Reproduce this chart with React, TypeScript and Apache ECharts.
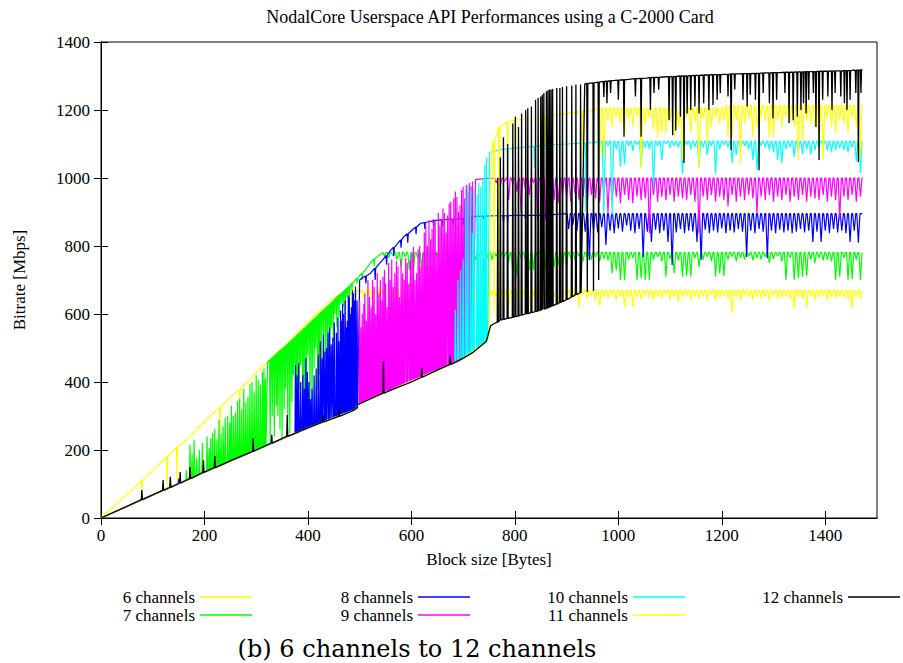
import React, { useEffect, useRef } from "react";
import * as echarts from "echarts";

// Tick labels
const xTicks = [0, 200, 400, 600, 800, 1000, 1200, 1400];
const yTicks = [0, 200, 400, 600, 800, 1000, 1200, 1400];

const seriesNames = [
  "6 channels",
  "7 channels",
  "8 channels",
  "9 channels",
  "10 channels",
  "11 channels",
  "12 channels",
];
const seriesColors = ["#ffff00", "#00ff00", "#0000ff", "#ff00ff", "#00ffff", "#ffff00", "#000000"];

// Point lists: [x, y] = a sample; [x, a, b] = a one-sample spike at x from level a to b and back.
// Bands: noisy saturated plateaus, one dip to lows[i] at x0 + i*dx from the ceiling `top`.

// ---- 6 channels ----
const s6Head: number[][] = [
  [0, 0], [40, 55], [60, 82], [79, 110, 62], [100, 140], [128, 180, 98], [147, 208, 112], [172, 240], [200, 283],
  [230, 325, 252], [250, 355], [268, 378, 335], [300, 428], [330, 470], [352, 502, 470], [380, 545], [400, 575],
  [420, 605, 578], [443, 640], [460, 656], [478, 668],
];
const s6Band = {
  x0: 484, dx: 8, top: 670,
  lows: [
    655, 648, 660, 645, 652, 640, 658, 650, 645, 655, 650, 611, 648, 660, 642, 655, 650, 645, 658, 648,
    652, 640, 655, 648, 660, 645, 650, 642, 656, 648, 645, 658, 650, 640, 655, 648, 652, 645, 621, 650,
    645, 655, 648, 621, 652, 640, 656, 648, 645, 650, 627, 648, 655, 642, 650, 621, 658, 645, 652, 640,
    624, 650, 645, 655, 640, 652, 621, 648, 621, 650, 642, 655, 648, 640, 652, 645, 658, 642, 650, 636,
    648, 655, 640, 652, 645, 650, 642, 656, 640, 648, 652, 645, 603, 650, 640, 655, 648, 642, 652, 645,
    650, 640, 655, 645, 648, 652, 642, 617, 650, 645, 620, 652, 642, 648, 655, 640, 650, 645, 652, 648,
    642, 617, 650, 645,
  ],
};
const s6Tail: number[][] = [[1472, 670]];

// ---- 7 channels ----
const s7Head: number[][] = [
  [0, 0], [50, 34], [100, 68], [120, 81, 96], [150, 101], [165, 111, 140], [172, 116, 215], [176, 119, 190],
  [180, 121, 230], [185, 124, 175], [190, 128, 200], [196, 132, 220], [200, 135], [205, 138, 240], [209, 140, 205],
  [212, 142, 235], [216, 145, 250], [220, 148, 262], [224, 150, 230], [228, 153, 288], [232, 156, 250], [236, 158, 270],
  [240, 161, 295], [245, 165, 300], [249, 167, 280], [252, 170, 330], [256, 172, 300], [260, 175, 310], [264, 177, 345],
  [268, 180, 350], [272, 182, 320], [276, 185, 380], [280, 187, 340], [284, 190, 356], [288, 192, 395],
  [292, 195, 400], [296, 197, 370], [300, 200, 420], [304, 202, 405], [308, 205, 392], [312, 208, 430],
  [315, 210, 440], [318, 212, 410],
  [322, 458], [327, 465, 220], [331, 471, 300], [335, 477, 240], [339, 483, 330], [342, 487, 300], [346, 492, 260],
  [350, 497, 232], [354, 502, 320], [357, 507, 380], [361, 512, 280], [365, 518, 250], [369, 523, 340], [372, 528, 420],
  [376, 533, 300], [379, 538, 262], [383, 543, 380], [386, 548, 450], [390, 553, 330], [393, 558, 300], [397, 563, 420],
  [400, 568, 480], [404, 574, 350], [408, 580, 330], [412, 585, 440], [415, 590, 500], [419, 595, 380], [422, 600, 420],
  [426, 606, 470], [430, 612, 540], [434, 617, 400], [438, 623, 350], [442, 628, 500], [445, 633, 560],
  [449, 638, 520], [452, 643, 600], [456, 649, 560], [460, 655, 590], [464, 660, 630], [468, 665, 620],
  [472, 671, 600], [476, 677, 650], [480, 683, 640], [485, 690, 670], [495, 705, 690], [505, 720, 700], [515, 738],
  [528, 762, 740], [540, 776],
];
const s7Band = {
  x0: 548, dx: 8, top: 781,
  lows: [
    770, 765, 772, 760, 738, 768, 729, 729, 765, 738, 770, 762, 768, 758, 770, 760, 679, 670, 765, 772,
    760, 768, 758, 770, 720, 765, 760, 770, 762, 768, 755, 720, 710, 765, 760, 729, 729, 768, 755, 729,
    762, 738, 745, 729, 740, 765, 760, 770, 755, 765, 760, 768, 755, 762, 758, 720, 729, 700, 700, 760,
    765, 700, 705, 700, 700, 760, 768, 755, 710, 762, 720, 758, 710, 712, 710, 765, 738, 760, 768, 755,
    710, 720, 712, 760, 768, 755, 765, 760, 770, 758, 765, 760, 768, 750, 762, 770, 755, 700, 765, 700,
    705, 710, 712, 760, 750, 765, 758, 760, 755, 700, 710, 765, 700, 702, 760, 700,
  ],
};
const s7Tail: number[][] = [[1472, 781]];

// ---- 8 channels ----
const s8Head: number[][] = [
  [0, 0], [100, 68], [150, 101, 115], [200, 135], [250, 168], [300, 200], [320, 213], [376, 249, 450], [379, 251, 420],
  [382, 253, 455], [386, 256, 400], [390, 258, 420], [393, 260, 380], [396, 262, 470], [399, 264, 430], [402, 266, 400],
  [405, 268, 350], [408, 270, 380], [412, 273, 420], [416, 275, 440], [420, 278, 480], [424, 280, 520], [427, 282, 470],
  [430, 283, 540], [433, 285, 490], [436, 287, 500], [439, 288, 545], [442, 290, 560], [445, 291, 510], [448, 292, 530],
  [451, 294, 575], [455, 296, 545], [458, 298, 590], [460, 300, 520], [463, 302, 610], [465, 303, 580], [467, 305, 630],
  [469, 306, 600], [472, 308, 640], [474, 310, 560], [476, 311, 580], [478, 312, 655], [480, 313, 650], [482, 314, 600],
  [484, 315, 620], [486, 316, 670], [488, 317, 661], [490, 318, 640], [492, 320, 680], [495, 322, 640],
  [500, 700], [505, 706], [512, 712, 690], [521, 720], [530, 735, 700], [538, 748], [545, 760], [552, 772, 745], [560, 788],
  [566, 796, 770], [572, 805], [580, 818, 795], [585, 827], [593, 836, 810], [600, 845], [609, 856, 835], [618, 867],
  [626, 869, 850], [635, 872], [643, 874, 852], [650, 876], [660, 877, 858], [670, 878], [680, 879, 860], [690, 880],
  [700, 881, 862], [709, 882, 827], [715, 884, 840], [722, 887],
  [740, 888, 878], [760, 889], [778, 889, 867], [786, 889, 870], [800, 890], [820, 890, 882], [845, 890], [860, 890, 880],
  [880, 893],
];
const s8Band = {
  x0: 904, dx: 8, top: 895,
  lows: [
    850, 862, 845, 858, 842, 759, 848, 840, 855, 803, 845, 838, 852, 842, 860, 845, 838, 850, 768, 842,
    812, 848, 838, 845, 812, 744, 840, 850, 838, 845, 842, 812, 759, 848, 838, 845, 840, 852, 838, 845,
    840, 850, 842, 768, 845, 838, 850, 842, 764, 845, 838, 848, 840, 845, 838, 842, 850, 840, 845, 812,
    842, 812, 845, 838, 850, 840, 845, 838, 812, 845, 810,
  ],
};
const s8Tail: number[][] = [[1472, 895]];

// ---- 9 channels ----
const s9Head: number[][] = [
  [0, 0], [100, 68], [200, 135], [300, 200], [400, 265], [490, 318], [496, 333],
  [500, 336, 640], [503, 338, 560], [505, 339, 600], [508, 341, 630], [510, 343, 660], [513, 345, 580],
  [516, 347, 700], [519, 349, 650], [522, 351, 620], [525, 353, 700], [528, 355, 680], [531, 357, 600],
  [534, 359, 720], [537, 361, 660], [540, 363, 700], [543, 365, 640], [545, 366, 709], [548, 368, 730],
  [550, 369, 690], [553, 371, 620], [556, 373, 750], [559, 375, 700], [562, 377, 760], [565, 379, 680],
  [568, 381, 720], [571, 383, 755], [574, 385, 740], [577, 387, 650], [580, 389, 760], [583, 391, 720],
  [586, 393, 700], [589, 394, 765], [592, 396, 750], [595, 397, 690], [598, 399, 760], [601, 401, 780],
  [604, 403, 797], [607, 405, 700], [610, 407, 720], [613, 409, 790], [616, 411, 800], [619, 413, 740],
  [622, 415, 780], [625, 417, 840], [628, 420, 860], [631, 422, 800], [634, 424, 876], [637, 426, 820],
  [640, 428, 850], [643, 430, 880], [646, 432, 870], [649, 434, 780], [652, 436, 897], [655, 438, 860],
  [658, 440, 880], [661, 442, 910], [664, 444, 897], [667, 446, 840], [670, 447, 890], [673, 449, 925],
  [676, 451, 930], [679, 453, 880], [682, 455, 940], [685, 457, 960], [688, 459, 944], [691, 461, 900],
  [694, 463, 920], [697, 466, 965], [700, 470, 974], [703, 472, 940], [706, 475, 980], [709, 478, 960],
  [712, 481, 985], [715, 483, 975], [718, 486, 990],
  [724, 995], [740, 998],
];
const s9Band = {
  x0: 764, dx: 8, top: 1000,
  lows: [
    985, 975, 990, 935, 980, 960, 897, 970, 950, 985, 876, 950, 876, 955, 935, 926, 950, 940, 930, 955,
    935, 945, 926, 950, 940, 930, 955, 897, 930, 945, 926, 950, 935, 926, 945, 935, 940, 838, 950, 930,
    945, 935, 950, 930, 945, 940, 935, 950, 930, 838, 945, 935, 950, 930, 945, 935, 917, 950, 930, 945,
    935, 950, 940, 897, 945, 935, 950, 930, 945, 935, 950, 930, 945, 935, 950, 930, 945, 940, 935, 950,
    930, 945, 935, 877, 945, 935, 950, 930, 945,
  ],
};
const s9Tail: number[][] = [[1472, 1002]];

// ---- 10 channels ----
const s10Head: number[][] = [
  [0, 0], [100, 68], [200, 135], [300, 200], [400, 265], [490, 318], [496, 333], [560, 376], [650, 435], [680, 456],
  [685, 460, 612], [690, 463, 700], [695, 467, 729], [700, 470, 760], [705, 474, 935], [709, 478, 980],
  [714, 482, 964], [718, 486, 838], [721, 490, 970], [727, 498, 950], [730, 501, 985], [734, 506, 973],
  [738, 510, 1000], [742, 515, 1040], [745, 520, 1060], [748, 530],
  [751, 1075], [770, 1083], [786, 1086, 1014], [800, 1088], [838, 1093, 1030], [870, 1097], [900, 1100],
  [937, 1103, 900], [955, 1104],
];
const s10Band = {
  x0: 964, dx: 8, top: 1108,
  lows: [
    1090, 895, 1095, 891, 1085, 1033, 1040, 1095, 1080, 1098, 1033, 1090, 1085, 974, 1095, 1053, 1100, 1088, 1095, 1090,
    1012, 1098, 1085, 1092, 1033, 1090, 1068, 1095, 1012, 1085, 1098, 1090, 1044, 1068, 1088, 1095, 1085, 1053, 1023, 1095,
    1090, 1082, 1075, 1053, 1044, 1085, 1090, 1062, 1080, 1070, 1085, 1070, 1082, 1090, 1095, 1082, 1075, 1082, 1088, 1082,
    1075, 1090, 1050, 1014,
  ],
};
const s10Tail: number[][] = [[1472, 1108]];

// ---- 11 channels ----
const s11Head: number[][] = [
  [0, 0], [100, 68], [200, 135], [300, 200], [400, 265], [490, 318], [496, 333], [560, 376], [650, 435], [700, 470],
  [745, 520], [750, 540],
  [753, 1000], [757, 1100], [760, 1110, 600], [765, 1130], [770, 1150, 603], [780, 1160], [786, 1165, 994],
  [800, 1170, 1080], [830, 1175], [860, 1180, 1100], [900, 1190], [930, 1195, 1060], [950, 1198],
];
const s11BandA = {
  x0: 964, dx: 8, top: 1206,
  lows: [
    1053, 1060, 1170, 1150, 1180, 1160, 1132, 1175, 1150, 1185, 1029, 1160, 1175, 1140, 1121, 1132, 1132, 1170, 1120, 1150,
    1053, 1180, 1132, 1165, 1029, 1175, 1100, 1150, 1180, 1160, 1170,
  ],
};
const s11BandB = {
  x0: 1212, dx: 8, top: 1214,
  lows: [
    1121, 1125, 1170, 1044, 1160, 1175, 1121, 1150, 1180, 1165, 1121, 1121, 1170, 1150, 1180, 1165, 1150, 1053, 1110, 1170,
    1160, 1150, 1100, 1053, 1175, 1150, 1132, 1170, 1160, 1132, 1175, 1150, 1062,
  ],
};
const s11Tail: number[][] = [[1472, 1218]];

// ---- 12 channels ----
const s12Head: number[][] = [
  [0, 0], [50, 34], [79, 54, 82], [100, 68], [120, 81, 112], [134, 90, 121], [153, 103, 135], [172, 116, 150],
  [198, 134, 170], [220, 148, 182], [250, 168], [294, 196, 235], [300, 200], [330, 220, 245], [360, 240, 303], [400, 265],
  [430, 283, 302], [460, 299, 322], [490, 318], [496, 333], [520, 350], [546, 367, 460], [560, 376], [600, 400],
  [620, 414, 442], [650, 435], [675, 452, 478], [700, 470], [720, 488], [745, 520], [753, 565], [760, 572],
  [767, 576, 1000], [772, 582, 1060], [778, 584, 1120], [786, 587, 1100], [796, 590, 1160], [801, 592, 1180],
  [807, 594, 1150], [813, 597, 1190], [821, 600, 1200], [825, 601, 1205], [832, 604, 1210], [840, 607, 1230],
  [845, 609, 1235], [850, 611, 1240], [853, 613, 1245], [856, 614, 1250], [861, 616, 1255], [864, 618, 1258],
  [867, 620, 1260], [870, 622, 1260], [873, 624, 1262], [881, 629, 1265], [887, 633, 1265], [892, 636, 1268],
  [900, 642, 1270], [910, 650, 1272], [918, 657, 1275], [927, 662, 1275],
  [935, 1276], [940, 1278, 665], [952, 1280, 668], [962, 1282, 700], [972, 1284, 1238], [978, 1285, 1220],
  [985, 1286, 1250], [993, 1287], [1000, 1288, 1230], [1011, 1289, 1121], [1020, 1290], [1033, 1292, 1240],
  [1044, 1293, 1121], [1055, 1294], [1062, 1295, 1200], [1069, 1296, 1250], [1078, 1296, 1260], [1086, 1297],
  [1098, 1298, 1170], [1105, 1298, 1126], [1111, 1299, 1140], [1120, 1300, 1180], [1127, 1300, 1044],
  [1133, 1300, 1190], [1140, 1301, 1200], [1148, 1302, 1210], [1156, 1302, 1190], [1165, 1303, 1220],
  [1175, 1303, 1200], [1183, 1304, 1215], [1191, 1304, 1230], [1197, 1304, 1250], [1205, 1305],
  [1212, 1305, 1240], [1218, 1306, 1082], [1225, 1306, 1260], [1233, 1306], [1241, 1307, 1230],
  [1249, 1307, 1210], [1255, 1307, 1245], [1265, 1308, 1230], [1272, 1308, 1023], [1280, 1309, 1250],
  [1286, 1309], [1292, 1309, 1220], [1299, 1310, 1176], [1306, 1310, 1230], [1315, 1310], [1322, 1311, 1250],
  [1330, 1311, 1162], [1338, 1311, 1170], [1346, 1312, 1180], [1353, 1312, 1200], [1358, 1312, 1220],
  [1363, 1313, 1190], [1368, 1313, 1230], [1377, 1313, 1250], [1382, 1313, 1150], [1388, 1314, 1053],
  [1395, 1314, 1230], [1400, 1314], [1405, 1314, 1240], [1413, 1315, 1200], [1419, 1315, 1250], [1425, 1315],
  [1430, 1315, 1240], [1437, 1316, 1220], [1442, 1316, 1200], [1448, 1316, 1230], [1455, 1317],
  [1459, 1317, 1250], [1464, 1317, 1047], [1469, 1318, 1250], [1472, 1318],
];

type Band = { x0: number; dx: number; top: number; lows: number[] };

function expand(pts: number[][]): number[][] {
  const out: number[][] = [];
  for (const p of pts) {
    if (p.length === 2) out.push([p[0], p[1]]);
    else out.push([p[0] - 1, p[1]], [p[0], p[2]], [p[0] + 1, p[1]]);
  }
  return out;
}

function bandPoints(b: Band): number[][] {
  const out: number[][] = [];
  b.lows.forEach((low, i) => {
    const x = b.x0 + i * b.dx;
    out.push([x - 3, b.top], [x, low], [x + 3, b.top]);
  });
  return out;
}

const seriesData: number[][][] = [
  [...expand(s6Head), ...bandPoints(s6Band), ...expand(s6Tail)],
  [...expand(s7Head), ...bandPoints(s7Band), ...expand(s7Tail)],
  [...expand(s8Head), ...bandPoints(s8Band), ...expand(s8Tail)],
  [...expand(s9Head), ...bandPoints(s9Band), ...expand(s9Tail)],
  [...expand(s10Head), ...bandPoints(s10Band), ...expand(s10Tail)],
  [...expand(s11Head), ...bandPoints(s11BandA), ...bandPoints(s11BandB), ...expand(s11Tail)],
  [...expand(s12Head)],
];

const SERIF = "Liberation Serif";

export default function App() {
  const ref = useRef<HTMLDivElement>(null);
  useEffect(() => {
    if (!ref.current) return;
    const chart = echarts.init(ref.current, undefined, { renderer: "svg" });
    const tickLabel = { color: "#000", fontSize: 17, fontFamily: SERIF };
    const axisCommon = {
      type: "value" as const,
      axisLine: { show: true, lineStyle: { color: "#000", width: 1 } },
      splitLine: { show: false },
    };
    const legendCol = (names: string[], right: number) => ({
      orient: "vertical" as const,
      right,
      top: 588,
      padding: 0,
      align: "right" as const,
      icon: "rect",
      itemWidth: 52,
      itemHeight: 1.5,
      itemGap: 0,
      selectedMode: false,
      data: names,
      textStyle: { color: "#000", fontSize: 17, fontFamily: SERIF, lineHeight: 18 },
    });
    chart.setOption({
      animation: false,
      textStyle: { fontFamily: SERIF },
      grid: {
        left: 101,
        top: 42,
        width: 776,
        height: 476,
        show: true,
        borderColor: "#000",
        borderWidth: 1,
        backgroundColor: "transparent",
      },
      xAxis: [
        {
          ...axisCommon,
          position: "bottom",
          min: 0,
          max: 1500,
          interval: 200,
          axisTick: { show: true, inside: true, length: 7, customValues: xTicks, lineStyle: { color: "#000" } },
          axisLabel: { ...tickLabel, margin: 9, customValues: xTicks, formatter: (v: number) => String(v) },
          name: "Block size [Bytes]",
          nameLocation: "middle",
          nameGap: 33,
          nameTextStyle: { color: "#000", fontSize: 17, fontFamily: SERIF },
        },
        {
          ...axisCommon,
          position: "top",
          min: 0,
          max: 1500,
          interval: 200,
          axisTick: { show: true, inside: true, length: 7, customValues: xTicks, lineStyle: { color: "#000" } },
          axisLabel: { show: false },
        },
      ],
      yAxis: [
        {
          ...axisCommon,
          position: "left",
          min: 0,
          max: 1400,
          interval: 200,
          axisTick: { show: true, inside: true, length: 7, customValues: yTicks, lineStyle: { color: "#000" } },
          axisLabel: { ...tickLabel, margin: 11, customValues: yTicks, formatter: (v: number) => String(v) },
          name: "Bitrate [Mbps]",
          nameLocation: "middle",
          nameGap: 73,
          nameRotate: 90,
          nameTextStyle: { color: "#000", fontSize: 17, fontFamily: SERIF },
        },
        {
          ...axisCommon,
          position: "right",
          min: 0,
          max: 1400,
          interval: 200,
          axisTick: { show: true, inside: true, length: 7, customValues: yTicks, lineStyle: { color: "#000" } },
          axisLabel: { show: false },
        },
      ],
      legend: [
        legendCol([seriesNames[0], seriesNames[1]], 651),
        legendCol([seriesNames[2], seriesNames[3]], 433),
        legendCol([seriesNames[4], seriesNames[5]], 218),
        legendCol([seriesNames[6]], 3),
      ],
      series: seriesData.map((d, i) => ({
        name: seriesNames[i],
        type: "line",
        data: d,
        showSymbol: false,
        symbol: "none",
        silent: true,
        clip: true,
        color: seriesColors[i],
        lineStyle: { color: seriesColors[i], width: i === 6 ? 1.3 : 1.2 },
        z: 2 + i,
      })),
      graphic: [
        {
          type: "text",
          x: 490,
          y: 17,
          style: {
            text: "NodalCore Userspace API Performances using a C-2000 Card",
            fill: "#000",
            font: `18px ${SERIF}`,
            textAlign: "center",
            textVerticalAlign: "middle",
          },
        },
        {
          type: "text",
          x: 417,
          y: 649,
          style: {
            text: "(b) 6 channels to 12 channels",
            fill: "#000",
            font: `24px 'DejaVu Serif', serif`,
            textAlign: "center",
            textVerticalAlign: "middle",
          },
        },
      ],
    });
    return () => chart.dispose();
  }, []);
  return (
    <div
      ref={ref}
      style={{ position: "absolute", left: 0, top: 0, width: 903, height: 663, background: "#fff" }}
    />
  );
}
